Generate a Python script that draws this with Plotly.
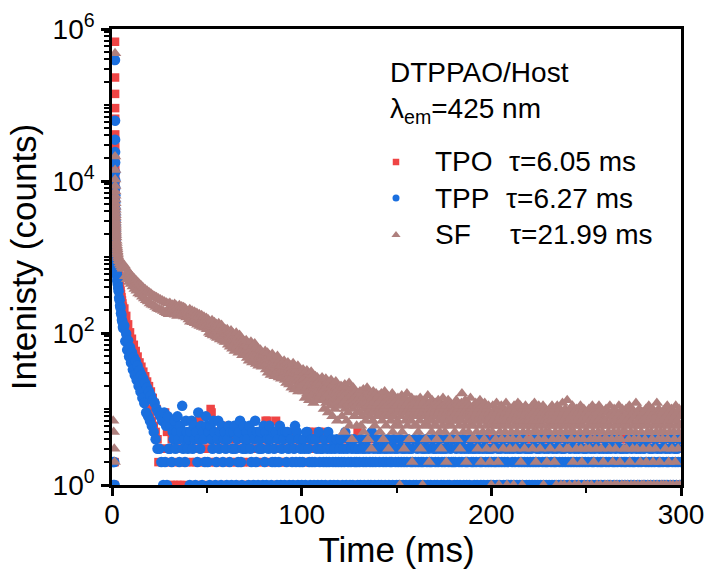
import plotly.graph_objects as go

# ---------------- data ----------------
# shared early time channels (ms)
time_early_ms = [
    0.6, 0.9, 1.2, 1.4,
    1.6, 1.62, 1.64, 1.66, 1.68, 1.7, 1.72, 1.74, 1.76, 1.78, 1.8, 1.82, 1.84, 1.86, 1.88, 1.9, 1.92, 1.94, 1.96, 1.98, 2.0,
    2.1, 2.2, 2.3, 2.4, 2.5, 2.6, 2.7, 2.8, 2.9, 3.0,
    3.25, 3.5, 3.75, 4.0, 4.25, 4.5, 4.75, 5.0, 5.25, 5.5, 5.75, 6.0,
    6.5, 7, 7.5, 8, 8.5, 9, 9.5, 10, 10.5, 11, 11.5, 12, 12.5, 13, 13.5, 14, 14.5, 15, 15.5, 16,
    16.5, 17, 17.5, 18, 18.5, 19, 19.5, 20, 20.5, 21, 21.5, 22, 22.5, 23, 23.5, 24, 24.5, 25, 25.5, 26,
    26.5, 27, 27.5, 28, 28.5, 29, 29.5, 30,
]

# TPO / TPP tail channels (ms)
time_tail_ms = [
    30.5, 31, 31.5, 32, 32.5, 33, 33.5, 34, 34.5, 35, 35.5, 36, 36.5, 37, 37.5, 38, 38.5, 39, 39.5, 40,
    40.5, 41, 41.5, 42, 42.5, 43, 43.5, 44, 44.5, 45, 45.5, 46, 46.5, 47, 47.5, 48, 48.5, 49, 49.5, 50,
    50.5, 51, 51.5, 52, 52.5, 53, 53.5, 54, 54.5, 55, 55.5, 56, 56.5, 57, 57.5, 58, 58.5, 59, 59.5, 60,
    60.5, 61, 61.5, 62, 62.5, 63, 63.5, 64, 64.5, 65, 65.5, 66, 66.5, 67, 67.5, 68, 68.5, 69, 69.5, 70,
    70.5, 71, 71.5, 72, 72.5, 73, 73.5, 74, 74.5, 75, 75.5, 76, 76.5, 77, 77.5, 78, 78.5, 79, 79.5, 80,
    80.5, 81, 81.5, 82, 82.5, 83, 83.5, 84, 84.5, 85, 85.5, 86, 86.5, 87, 87.5, 88, 88.5, 89, 89.5, 90,
    90.5, 91, 91.5, 92, 92.5, 93, 93.5, 94, 94.5, 95, 95.5, 96, 96.5, 97, 97.5, 98, 98.5, 99, 99.5, 100,
    100.5, 101, 101.5, 102, 102.5, 103, 103.5, 104, 104.5, 105, 105.5, 106, 106.5, 107, 107.5, 108, 108.5, 109, 109.5, 110,
    110.5, 111, 111.5, 112, 112.5, 113, 113.5, 114, 114.5, 115, 115.5, 116, 116.5, 117, 117.5, 118, 118.5, 119, 119.5, 120,
    120.5, 121, 121.5, 122, 122.5, 123, 123.5, 124, 124.5, 125, 125.5, 126, 126.5, 127, 127.5, 128, 128.5, 129, 129.5, 130,
    130.5, 131, 131.5, 132, 132.5, 133, 133.5, 134, 134.5, 135, 135.5, 136, 136.5, 137, 137.5, 138, 138.5, 139, 139.5, 140,
    140.5, 141, 141.5, 142, 142.5, 143, 143.5, 144, 144.5, 145, 145.5, 146, 146.5, 147, 147.5, 148, 148.5, 149, 149.5, 150,
    150.5, 151, 151.5, 152, 152.5, 153, 153.5, 154, 154.5, 155, 155.5, 156, 156.5, 157, 157.5, 158, 158.5, 159, 159.5, 160,
    160.5, 161, 161.5, 162, 162.5, 163, 163.5, 164, 164.5, 165, 165.5, 166, 166.5, 167, 167.5, 168, 168.5, 169, 169.5, 170,
    170.5, 171, 171.5, 172, 172.5, 173, 173.5, 174, 174.5, 175, 175.5, 176, 176.5, 177, 177.5, 178, 178.5, 179, 179.5, 180,
    180.5, 181, 181.5, 182, 182.5, 183, 183.5, 184, 184.5, 185, 185.5, 186, 186.5, 187, 187.5, 188, 188.5, 189, 189.5, 190,
    190.5, 191, 191.5, 192, 192.5, 193, 193.5, 194, 194.5, 195, 195.5, 196, 196.5, 197, 197.5, 198, 198.5, 199, 199.5, 200,
    200.5, 201, 201.5, 202, 202.5, 203, 203.5, 204, 204.5, 205, 205.5, 206, 206.5, 207, 207.5, 208, 208.5, 209, 209.5, 210,
    210.5, 211, 211.5, 212, 212.5, 213, 213.5, 214, 214.5, 215, 215.5, 216, 216.5, 217, 217.5, 218, 218.5, 219, 219.5, 220,
    220.5, 221, 221.5, 222, 222.5, 223, 223.5, 224, 224.5, 225, 225.5, 226, 226.5, 227, 227.5, 228, 228.5, 229, 229.5, 230,
    230.5, 231, 231.5, 232, 232.5, 233, 233.5, 234, 234.5, 235, 235.5, 236, 236.5, 237, 237.5, 238, 238.5, 239, 239.5, 240,
    240.5, 241, 241.5, 242, 242.5, 243, 243.5, 244, 244.5, 245, 245.5, 246, 246.5, 247, 247.5, 248, 248.5, 249, 249.5, 250,
    250.5, 251, 251.5, 252, 252.5, 253, 253.5, 254, 254.5, 255, 255.5, 256, 256.5, 257, 257.5, 258, 258.5, 259, 259.5, 260,
    260.5, 261, 261.5, 262, 262.5, 263, 263.5, 264, 264.5, 265, 265.5, 266, 266.5, 267, 267.5, 268, 268.5, 269, 269.5, 270,
    270.5, 271, 271.5, 272, 272.5, 273, 273.5, 274, 274.5, 275, 275.5, 276, 276.5, 277, 277.5, 278, 278.5, 279, 279.5, 280,
    280.5, 281, 281.5, 282, 282.5, 283, 283.5, 284, 284.5, 285, 285.5, 286, 286.5, 287, 287.5, 288, 288.5, 289, 289.5, 290,
    290.5, 291, 291.5, 292, 292.5, 293, 293.5, 294, 294.5, 295, 295.5, 296, 296.5, 297, 297.5, 298, 298.5, 299, 299.5, 300,
]

# SF tail channels (ms) - finer binning
sf_time_tail_ms = [
    30.25, 30.5, 30.75, 31, 31.25, 31.5, 31.75, 32, 32.25, 32.5, 32.75, 33, 33.25, 33.5, 33.75, 34, 34.25, 34.5, 34.75, 35,
    35.25, 35.5, 35.75, 36, 36.25, 36.5, 36.75, 37, 37.25, 37.5, 37.75, 38, 38.25, 38.5, 38.75, 39, 39.25, 39.5, 39.75, 40,
    40.25, 40.5, 40.75, 41, 41.25, 41.5, 41.75, 42, 42.25, 42.5, 42.75, 43, 43.25, 43.5, 43.75, 44, 44.25, 44.5, 44.75, 45,
    45.25, 45.5, 45.75, 46, 46.25, 46.5, 46.75, 47, 47.25, 47.5, 47.75, 48, 48.25, 48.5, 48.75, 49, 49.25, 49.5, 49.75, 50,
    50.25, 50.5, 50.75, 51, 51.25, 51.5, 51.75, 52, 52.25, 52.5, 52.75, 53, 53.25, 53.5, 53.75, 54, 54.25, 54.5, 54.75, 55,
    55.25, 55.5, 55.75, 56, 56.25, 56.5, 56.75, 57, 57.25, 57.5, 57.75, 58, 58.25, 58.5, 58.75, 59, 59.25, 59.5, 59.75, 60,
    60.25, 60.5, 60.75, 61, 61.25, 61.5, 61.75, 62, 62.25, 62.5, 62.75, 63, 63.25, 63.5, 63.75, 64, 64.25, 64.5, 64.75, 65,
    65.25, 65.5, 65.75, 66, 66.25, 66.5, 66.75, 67, 67.25, 67.5, 67.75, 68, 68.25, 68.5, 68.75, 69, 69.25, 69.5, 69.75, 70,
    70.25, 70.5, 70.75, 71, 71.25, 71.5, 71.75, 72, 72.25, 72.5, 72.75, 73, 73.25, 73.5, 73.75, 74, 74.25, 74.5, 74.75, 75,
    75.25, 75.5, 75.75, 76, 76.25, 76.5, 76.75, 77, 77.25, 77.5, 77.75, 78, 78.25, 78.5, 78.75, 79, 79.25, 79.5, 79.75, 80,
    80.25, 80.5, 80.75, 81, 81.25, 81.5, 81.75, 82, 82.25, 82.5, 82.75, 83, 83.25, 83.5, 83.75, 84, 84.25, 84.5, 84.75, 85,
    85.25, 85.5, 85.75, 86, 86.25, 86.5, 86.75, 87, 87.25, 87.5, 87.75, 88, 88.25, 88.5, 88.75, 89, 89.25, 89.5, 89.75, 90,
    90.25, 90.5, 90.75, 91, 91.25, 91.5, 91.75, 92, 92.25, 92.5, 92.75, 93, 93.25, 93.5, 93.75, 94, 94.25, 94.5, 94.75, 95,
    95.25, 95.5, 95.75, 96, 96.25, 96.5, 96.75, 97, 97.25, 97.5, 97.75, 98, 98.25, 98.5, 98.75, 99, 99.25, 99.5, 99.75, 100,
    100.25, 100.5, 100.75, 101, 101.25, 101.5, 101.75, 102, 102.25, 102.5, 102.75, 103, 103.25, 103.5, 103.75, 104, 104.25, 104.5, 104.75, 105,
    105.25, 105.5, 105.75, 106, 106.25, 106.5, 106.75, 107, 107.25, 107.5, 107.75, 108, 108.25, 108.5, 108.75, 109, 109.25, 109.5, 109.75, 110,
    110.25, 110.5, 110.75, 111, 111.25, 111.5, 111.75, 112, 112.25, 112.5, 112.75, 113, 113.25, 113.5, 113.75, 114, 114.25, 114.5, 114.75, 115,
    115.25, 115.5, 115.75, 116, 116.25, 116.5, 116.75, 117, 117.25, 117.5, 117.75, 118, 118.25, 118.5, 118.75, 119, 119.25, 119.5, 119.75, 120,
    120.25, 120.5, 120.75, 121, 121.25, 121.5, 121.75, 122, 122.25, 122.5, 122.75, 123, 123.25, 123.5, 123.75, 124, 124.25, 124.5, 124.75, 125,
    125.25, 125.5, 125.75, 126, 126.25, 126.5, 126.75, 127, 127.25, 127.5, 127.75, 128, 128.25, 128.5, 128.75, 129, 129.25, 129.5, 129.75, 130,
    130.25, 130.5, 130.75, 131, 131.25, 131.5, 131.75, 132, 132.25, 132.5, 132.75, 133, 133.25, 133.5, 133.75, 134, 134.25, 134.5, 134.75, 135,
    135.25, 135.5, 135.75, 136, 136.25, 136.5, 136.75, 137, 137.25, 137.5, 137.75, 138, 138.25, 138.5, 138.75, 139, 139.25, 139.5, 139.75, 140,
    140.25, 140.5, 140.75, 141, 141.25, 141.5, 141.75, 142, 142.25, 142.5, 142.75, 143, 143.25, 143.5, 143.75, 144, 144.25, 144.5, 144.75, 145,
    145.25, 145.5, 145.75, 146, 146.25, 146.5, 146.75, 147, 147.25, 147.5, 147.75, 148, 148.25, 148.5, 148.75, 149, 149.25, 149.5, 149.75, 150,
    150.25, 150.5, 150.75, 151, 151.25, 151.5, 151.75, 152, 152.25, 152.5, 152.75, 153, 153.25, 153.5, 153.75, 154, 154.25, 154.5, 154.75, 155,
    155.25, 155.5, 155.75, 156, 156.25, 156.5, 156.75, 157, 157.25, 157.5, 157.75, 158, 158.25, 158.5, 158.75, 159, 159.25, 159.5, 159.75, 160,
    160.25, 160.5, 160.75, 161, 161.25, 161.5, 161.75, 162, 162.25, 162.5, 162.75, 163, 163.25, 163.5, 163.75, 164, 164.25, 164.5, 164.75, 165,
    165.25, 165.5, 165.75, 166, 166.25, 166.5, 166.75, 167, 167.25, 167.5, 167.75, 168, 168.25, 168.5, 168.75, 169, 169.25, 169.5, 169.75, 170,
    170.25, 170.5, 170.75, 171, 171.25, 171.5, 171.75, 172, 172.25, 172.5, 172.75, 173, 173.25, 173.5, 173.75, 174, 174.25, 174.5, 174.75, 175,
    175.25, 175.5, 175.75, 176, 176.25, 176.5, 176.75, 177, 177.25, 177.5, 177.75, 178, 178.25, 178.5, 178.75, 179, 179.25, 179.5, 179.75, 180,
    180.25, 180.5, 180.75, 181, 181.25, 181.5, 181.75, 182, 182.25, 182.5, 182.75, 183, 183.25, 183.5, 183.75, 184, 184.25, 184.5, 184.75, 185,
    185.25, 185.5, 185.75, 186, 186.25, 186.5, 186.75, 187, 187.25, 187.5, 187.75, 188, 188.25, 188.5, 188.75, 189, 189.25, 189.5, 189.75, 190,
    190.25, 190.5, 190.75, 191, 191.25, 191.5, 191.75, 192, 192.25, 192.5, 192.75, 193, 193.25, 193.5, 193.75, 194, 194.25, 194.5, 194.75, 195,
    195.25, 195.5, 195.75, 196, 196.25, 196.5, 196.75, 197, 197.25, 197.5, 197.75, 198, 198.25, 198.5, 198.75, 199, 199.25, 199.5, 199.75, 200,
    200.25, 200.5, 200.75, 201, 201.25, 201.5, 201.75, 202, 202.25, 202.5, 202.75, 203, 203.25, 203.5, 203.75, 204, 204.25, 204.5, 204.75, 205,
    205.25, 205.5, 205.75, 206, 206.25, 206.5, 206.75, 207, 207.25, 207.5, 207.75, 208, 208.25, 208.5, 208.75, 209, 209.25, 209.5, 209.75, 210,
    210.25, 210.5, 210.75, 211, 211.25, 211.5, 211.75, 212, 212.25, 212.5, 212.75, 213, 213.25, 213.5, 213.75, 214, 214.25, 214.5, 214.75, 215,
    215.25, 215.5, 215.75, 216, 216.25, 216.5, 216.75, 217, 217.25, 217.5, 217.75, 218, 218.25, 218.5, 218.75, 219, 219.25, 219.5, 219.75, 220,
    220.25, 220.5, 220.75, 221, 221.25, 221.5, 221.75, 222, 222.25, 222.5, 222.75, 223, 223.25, 223.5, 223.75, 224, 224.25, 224.5, 224.75, 225,
    225.25, 225.5, 225.75, 226, 226.25, 226.5, 226.75, 227, 227.25, 227.5, 227.75, 228, 228.25, 228.5, 228.75, 229, 229.25, 229.5, 229.75, 230,
    230.25, 230.5, 230.75, 231, 231.25, 231.5, 231.75, 232, 232.25, 232.5, 232.75, 233, 233.25, 233.5, 233.75, 234, 234.25, 234.5, 234.75, 235,
    235.25, 235.5, 235.75, 236, 236.25, 236.5, 236.75, 237, 237.25, 237.5, 237.75, 238, 238.25, 238.5, 238.75, 239, 239.25, 239.5, 239.75, 240,
    240.25, 240.5, 240.75, 241, 241.25, 241.5, 241.75, 242, 242.25, 242.5, 242.75, 243, 243.25, 243.5, 243.75, 244, 244.25, 244.5, 244.75, 245,
    245.25, 245.5, 245.75, 246, 246.25, 246.5, 246.75, 247, 247.25, 247.5, 247.75, 248, 248.25, 248.5, 248.75, 249, 249.25, 249.5, 249.75, 250,
    250.25, 250.5, 250.75, 251, 251.25, 251.5, 251.75, 252, 252.25, 252.5, 252.75, 253, 253.25, 253.5, 253.75, 254, 254.25, 254.5, 254.75, 255,
    255.25, 255.5, 255.75, 256, 256.25, 256.5, 256.75, 257, 257.25, 257.5, 257.75, 258, 258.25, 258.5, 258.75, 259, 259.25, 259.5, 259.75, 260,
    260.25, 260.5, 260.75, 261, 261.25, 261.5, 261.75, 262, 262.25, 262.5, 262.75, 263, 263.25, 263.5, 263.75, 264, 264.25, 264.5, 264.75, 265,
    265.25, 265.5, 265.75, 266, 266.25, 266.5, 266.75, 267, 267.25, 267.5, 267.75, 268, 268.25, 268.5, 268.75, 269, 269.25, 269.5, 269.75, 270,
    270.25, 270.5, 270.75, 271, 271.25, 271.5, 271.75, 272, 272.25, 272.5, 272.75, 273, 273.25, 273.5, 273.75, 274, 274.25, 274.5, 274.75, 275,
    275.25, 275.5, 275.75, 276, 276.25, 276.5, 276.75, 277, 277.25, 277.5, 277.75, 278, 278.25, 278.5, 278.75, 279, 279.25, 279.5, 279.75, 280,
    280.25, 280.5, 280.75, 281, 281.25, 281.5, 281.75, 282, 282.25, 282.5, 282.75, 283, 283.25, 283.5, 283.75, 284, 284.25, 284.5, 284.75, 285,
    285.25, 285.5, 285.75, 286, 286.25, 286.5, 286.75, 287, 287.25, 287.5, 287.75, 288, 288.25, 288.5, 288.75, 289, 289.25, 289.5, 289.75, 290,
    290.25, 290.5, 290.75, 291, 291.25, 291.5, 291.75, 292, 292.25, 292.5, 292.75, 293, 293.25, 293.5, 293.75, 294, 294.25, 294.5, 294.75, 295,
    295.25, 295.5, 295.75, 296, 296.25, 296.5, 296.75, 297, 297.25, 297.5, 297.75, 298, 298.25, 298.5, 298.75, 299, 299.25, 299.5, 299.75, 300,
]

tpo_counts = [
    1, 2, 1, 2,
    680000, 230000, 140000, 91000, 66000, 41000, 28000, 19000, 14000, 10500, 8300, 6700, 5500, 4600, 3900, 3300, 2900, 2550, 2250, 2000, 1800,
    1650, 1480, 1330, 1210, 1100, 1010, 930, 860, 800, 740,
    640, 570, 500, 450, 400, 360, 325, 295, 268, 245, 222, 205,
    210, 145, 168, 110, 130, 84, 102, 66, 84, 53, 70, 43, 58, 35, 49, 28, 41, 23, 36, 19,
    31, 16, 27, 13, 23, 10, 20, 8, 17, 7, 14, 6, 12, 5, 10, 4, 2, 9, 3, 8,
    2, 7, 3, 9, 2, 5, 7, 3,
    # tail (time_tail_ms)
    2, 1, 4, 3, 1, 5, 2, 3, 1, 6, 2, 1, 4, 3, 2, 1, 5, 2, 3, 4,
    3, 2, 5, 1, 4, 2, 6, 3, 2, 1, 4, 7, 2, 3, 5, 1, 2, 4, 3, 2,
    4, 2, 3, 10, 9, 2, 5, 1, 3, 2, 5, 4, 3, 5, 2, 1, 4, 3, 2, 6,
    2, 3, 1, 4, 2, 5, 3, 2, 1, 4, 3, 2, 6, 1, 3, 2, 4, 2, 3, 1,
    3, 2, 4, 1, 5, 2, 3, 1, 2, 4, 3, 2, 5, 1, 3, 2, 4, 3, 1, 2,
    3, 7, 4, 7, 2, 3, 6, 2, 1, 3, 4, 2, 7, 3, 1, 2, 4, 3, 2, 5,
    2, 1, 3, 4, 2, 3, 1, 5, 2, 3, 4, 1, 2, 3, 2, 4, 1, 3, 2, 3,
    1, 2, 4, 3, 2, 1, 3, 5, 2, 4, 5, 3, 1, 2, 4, 2, 3, 5, 1, 2,
    3, 4, 2, 1, 5, 3, 2, 4, 1, 3, 2, 4, 3, 1, 2, 3, 4, 2, 1, 3,
    2, 3, 1, 4, 2, 3, 1, 2, 4, 3, 2, 1, 3, 4, 2, 1, 3, 2, 5, 1,
    3, 2, 4, 1, 2, 3, 1, 4, 2, 3, 1, 2, 3, 4, 1, 2, 3, 1, 2, 4,
    2, 1, 3, 2, 4, 1, 3, 2, 1, 4, 2, 3, 1, 2, 3, 4, 2, 1, 3, 2,
    1, 3, 2, 4, 1, 2, 3, 1, 2, 4, 3, 1, 2, 3, 1, 4, 2, 3, 2, 1,
    3, 2, 1, 2, 4, 3, 1, 2, 3, 1, 4, 2, 1, 3, 2, 4, 1, 2, 3, 2,
    1, 4, 2, 3, 1, 2, 3, 4, 1, 2, 3, 1, 2, 4, 3, 1, 2, 3, 1, 2,
    4, 2, 1, 3, 2, 1, 4, 3, 2, 1, 2, 3, 4, 1, 2, 3, 1, 2, 4, 3,
    2, 3, 1, 2, 4, 1, 3, 2, 1, 3, 2, 4, 1, 2, 3, 1, 4, 2, 1, 3,
    1, 2, 3, 4, 1, 2, 3, 1, 2, 4, 3, 2, 1, 3, 2, 1, 4, 3, 2, 1,
    3, 1, 2, 4, 3, 1, 2, 3, 1, 2, 4, 1, 3, 2, 1, 3, 2, 4, 1, 2,
    2, 4, 1, 3, 2, 1, 3, 2, 4, 1, 2, 3, 1, 2, 4, 3, 1, 2, 3, 1,
    4, 1, 2, 3, 1, 2, 4, 3, 1, 2, 3, 1, 2, 4, 2, 3, 1, 2, 1, 3,
    1, 3, 2, 1, 4, 2, 3, 1, 2, 3, 4, 1, 2, 1, 3, 2, 4, 1, 3, 2,
    3, 2, 1, 4, 2, 1, 3, 2, 4, 1, 2, 3, 1, 2, 3, 4, 1, 2, 3, 1,
    2, 1, 4, 3, 1, 2, 3, 1, 2, 4, 1, 3, 2, 1, 3, 2, 1, 4, 2, 3,
    1, 2, 3, 1, 4, 2, 1, 3, 2, 1, 4, 2, 3, 1, 2, 3, 1, 2, 4, 1,
    3, 1, 2, 4, 1, 3, 2, 1, 2, 3, 4, 1, 2, 3, 1, 2, 4, 3, 1, 2,
    2, 3, 1, 2, 4, 1, 3, 2, 1, 3, 2, 4, 1, 2, 3, 1, 2, 3, 4, 1,
]

tpp_counts = [
    2, 1, 2, 1,
    390000, 62000, 35000, 24000, 17500, 13000, 10200, 8100, 6500, 5300, 4300, 3600, 3000, 2600, 2200, 1900, 1700, 1500, 1350, 1200, 1080,
    960, 850, 790, 700, 650, 590, 560, 500, 480, 440,
    390, 355, 290, 270, 228, 215, 182, 172, 148, 140, 120, 115,
    125, 78, 98, 60, 80, 49, 65, 41, 56, 33, 48, 28, 43, 24, 37, 20, 32, 17, 28, 14,
    25, 12, 22, 9, 19, 8, 17, 7, 15, 6, 13, 5, 12, 4, 10, 3, 9, 3, 8, 2,
    7, 1, 9, 2, 6, 1, 8, 3,
    # tail (time_tail_ms)
    3, 6, 2, 5, 4, 7, 3, 5, 8, 4, 2, 6, 5, 11, 3, 4, 2, 7, 5, 3,
    4, 1, 5, 7, 3, 6, 4, 1, 5, 2, 9, 4, 3, 6, 1, 5, 4, 2, 8, 6,
    2, 5, 1, 6, 4, 3, 7, 5, 1, 2, 4, 7, 3, 5, 1, 6, 2, 4, 5, 3,
    1, 4, 6, 2, 5, 1, 3, 5, 6, 3, 1, 4, 2, 5, 7, 2, 1, 3, 6, 4,
    3, 5, 4, 1, 6, 3, 2, 5, 1, 4, 7, 2, 5, 1, 3, 4, 5, 3, 1, 6,
    2, 5, 1, 4, 3, 6, 4, 1, 2, 5, 3, 2, 5, 1, 4, 2, 6, 1, 3, 5,
    4, 1, 5, 2, 5, 3, 1, 4, 4, 2, 1, 3, 6, 2, 5, 1, 4, 2, 3, 1,
    2, 4, 3, 1, 5, 5, 3, 2, 1, 4, 2, 4, 1, 2, 4, 3, 1, 5, 2, 3,
    1, 3, 2, 4, 1, 2, 3, 5, 2, 1, 3, 4, 2, 1, 3, 2, 4, 1, 2, 3,
    4, 2, 1, 3, 2, 5, 1, 3, 2, 4, 1, 2, 3, 1, 4, 2, 3, 2, 1, 3,
    2, 1, 4, 3, 2, 1, 3, 2, 4, 1, 3, 2, 1, 5, 2, 3, 1, 2, 4, 3,
    1, 2, 3, 1, 4, 2, 3, 1, 2, 3, 4, 1, 2, 3, 2, 1, 4, 3, 2, 1,
    3, 2, 1, 4, 2, 3, 1, 2, 3, 1, 2, 4, 3, 1, 2, 3, 2, 1, 4, 2,
    1, 3, 2, 4, 1, 2, 3, 2, 1, 3, 4, 2, 1, 3, 2, 1, 2, 4, 3, 1,
    2, 3, 1, 2, 4, 3, 1, 2, 3, 1, 2, 3, 4, 1, 2, 1, 3, 2, 4, 2,
    1, 2, 3, 1, 4, 2, 1, 3, 2, 4, 1, 3, 2, 1, 2, 3, 1, 4, 2, 3,
    2, 1, 3, 2, 1, 4, 3, 2, 1, 2, 3, 1, 4, 2, 3, 1, 2, 3, 1, 2,
    3, 1, 2, 4, 2, 1, 3, 2, 1, 3, 2, 4, 1, 2, 3, 1, 2, 1, 3, 4,
    1, 2, 3, 1, 2, 4, 1, 3, 2, 1, 3, 2, 1, 4, 2, 3, 1, 2, 3, 1,
    2, 3, 1, 2, 4, 1, 2, 3, 1, 2, 3, 1, 4, 2, 1, 3, 2, 1, 2, 3,
    1, 4, 2, 1, 3, 2, 1, 2, 3, 4, 1, 2, 1, 3, 2, 1, 3, 2, 4, 1,
    2, 1, 3, 2, 1, 4, 2, 3, 1, 2, 1, 3, 2, 4, 1, 2, 3, 1, 2, 3,
    1, 2, 4, 1, 3, 2, 1, 2, 3, 1, 4, 2, 1, 3, 2, 1, 2, 3, 1, 4,
    2, 3, 1, 2, 1, 3, 4, 2, 1, 2, 3, 1, 2, 4, 1, 3, 2, 1, 3, 2,
    1, 2, 3, 1, 4, 2, 1, 3, 2, 1, 2, 4, 3, 1, 2, 1, 3, 2, 4, 1,
    3, 1, 2, 4, 1, 2, 3, 1, 2, 3, 1, 2, 4, 1, 3, 2, 1, 2, 3, 1,
    2, 4, 1, 3, 2, 1, 2, 3, 1, 4, 2, 1, 3, 2, 1, 3, 2, 4, 1, 2,
]

sf_counts = [
    7, 5, 3, 2,
    480000, 21000, 14000, 10500, 8600, 7300, 6400, 5700, 5100, 4600, 4200, 3850, 3550, 3300, 3050, 2850, 2650, 2500, 2350, 2200, 2080,
    1950, 1800, 1640, 1530, 1420, 1330, 1260, 1190, 1140, 1080,
    1010, 960, 905, 880, 830, 815, 780, 775, 740, 735, 705, 700,
    780, 560, 700, 510, 650, 470, 600, 440, 560, 410, 530, 380, 500, 360, 470, 330, 440, 320, 420, 300,
    395, 285, 375, 270, 360, 260, 345, 245, 330, 235, 315, 230, 305, 220, 295, 210, 285, 205, 275, 200,
    268, 195, 260, 188, 252, 182, 245, 176,
    # tail (sf_time_tail_ms)
    215, 248, 190, 226, 201, 178, 236, 209, 185, 222, 196, 240, 174, 212, 188, 229, 203, 168, 219, 194,
    181, 232, 199, 171, 214, 190, 224, 176, 206, 186, 218, 165, 198, 211, 179, 204, 160, 192, 183, 170,
    188, 150, 172, 205, 141, 167, 183, 156, 196, 138, 162, 177, 148, 190, 134, 158, 171, 145, 183, 128,
    152, 166, 139, 176, 124, 149, 160, 136, 171, 120, 144, 155, 131, 163, 117, 140, 150, 126, 158, 113,
    135, 112, 150, 124, 101, 142, 118, 96, 133, 109, 147, 121, 93, 128, 105, 139, 99, 116, 89, 131,
    107, 86, 122, 100, 134, 94, 113, 82, 119, 97, 127, 88, 108, 79, 115, 92, 103, 76, 111, 85,
    98, 77, 112, 86, 70, 104, 81, 95, 66, 90, 108, 74, 84, 62, 99, 79, 71, 92, 58, 85,
    76, 101, 64, 82, 69, 88, 55, 78, 94, 62, 73, 56, 86, 67, 51, 80, 63, 72, 54, 68,
    70, 52, 80, 61, 47, 74, 57, 66, 43, 71, 58, 49, 77, 54, 63, 41, 68, 51, 59, 45,
    73, 48, 56, 39, 65, 53, 44, 62, 37, 58, 50, 42, 60, 46, 54, 36, 52, 43, 48, 40,
    52, 38, 58, 44, 33, 49, 41, 55, 30, 46, 39, 51, 35, 43, 28, 48, 37, 53, 31, 42,
    36, 47, 27, 40, 34, 45, 29, 38, 50, 32, 41, 26, 37, 44, 30, 35, 25, 39, 33, 28,
    37, 28, 43, 31, 24, 39, 34, 22, 36, 29, 41, 26, 33, 21, 38, 30, 25, 35, 19, 32,
    27, 40, 23, 30, 18, 34, 26, 29, 20, 33, 24, 37, 17, 28, 22, 31, 19, 26, 23, 21,
    28, 21, 33, 17, 25, 30, 14, 23, 27, 19, 32, 16, 24, 20, 29, 13, 22, 26, 18, 31,
    15, 24, 21, 28, 12, 19, 25, 17, 27, 14, 22, 20, 26, 13, 23, 18, 16, 24, 15, 21,
    22, 16, 26, 13, 19, 24, 10, 18, 21, 14, 25, 12, 20, 17, 23, 9, 16, 22, 13, 19,
    11, 24, 15, 18, 8, 21, 14, 17, 20, 10, 16, 23, 12, 19, 7, 15, 18, 11, 14, 13,
    17, 11, 20, 14, 8, 16, 19, 12, 5, 15, 21, 10, 13, 18, 7, 14, 17, 9, 12, 22,
    6, 15, 11, 18, 13, 4, 16, 10, 19, 12, 8, 14, 17, 11, 15, 6, 13, 9, 16, 12,
    14, 9, 17, 11, 6, 13, 16, 8, 12, 18, 5, 10, 15, 12, 7, 14, 9, 19, 11, 4,
    13, 16, 8, 12, 10, 15, 3, 11, 14, 7, 17, 9, 12, 6, 13, 10, 16, 8, 11, 14,
    12, 8, 15, 10, 5, 13, 9, 16, 11, 7, 14, 4, 10, 12, 17, 8, 11, 6, 13, 9,
    15, 10, 3, 12, 8, 14, 11, 7, 13, 9, 16, 5, 10, 12, 8, 14, 6, 11, 9, 13,
    11, 7, 14, 9, 12, 6, 1, 10, 13, 8, 15, 5, 11, 9, 12, 3, 10, 14, 7, 11,
    9, 16, 6, 12, 8, 10, 4, 13, 9, 11, 7, 14, 2, 10, 12, 8, 11, 6, 13, 9,
    10, 6, 13, 8, 11, 5, 9, 12, 7, 14, 3, 10, 8, 11, 1, 9, 12, 6, 10, 8,
    13, 4, 11, 7, 9, 15, 6, 10, 2, 12, 8, 9, 11, 5, 13, 7, 10, 8, 12, 6,
    9, 12, 6, 10, 4, 11, 8, 13, 7, 9, 5, 12, 10, 3, 8, 11, 6, 14, 9, 7,
    10, 5, 12, 8, 2, 11, 9, 6, 13, 7, 10, 4, 9, 12, 8, 6, 11, 9, 7, 10,
    8, 11, 5, 10, 7, 13, 9, 4, 12, 8, 10, 6, 11, 3, 9, 7, 12, 16, 8, 10,
    5, 11, 9, 6, 13, 8, 2, 10, 7, 12, 9, 5, 11, 8, 6, 14, 9, 7, 10, 4,
    9, 6, 11, 4, 10, 7, 12, 8, 5, 9, 3, 11, 7, 10, 6, 13, 8, 2, 9, 7,
    11, 5, 8, 10, 4, 12, 7, 9, 6, 3, 10, 8, 5, 11, 7, 9, 2, 8, 6, 1,
    8, 5, 11, 7, 3, 9, 6, 10, 4, 8, 12, 6, 9, 2, 7, 1, 10, 5, 8, 6,
    11, 4, 9, 7, 3, 10, 6, 8, 5, 9, 12, 7, 1, 8, 4, 10, 6, 9, 3, 7,
    9, 5, 10, 7, 4, 8, 1, 11, 6, 9, 3, 7, 10, 5, 8, 12, 6, 9, 4, 7,
    11, 2, 8, 6, 1, 9, 5, 10, 7, 3, 8, 11, 6, 9, 4, 7, 10, 5, 8, 6,
    7, 10, 4, 8, 6, 11, 3, 9, 5, 7, 12, 6, 8, 2, 10, 5, 7, 9, 4, 11,
    6, 8, 3, 10, 7, 5, 9, 6, 11, 1, 8, 4, 7, 10, 5, 9, 2, 8, 6, 7,
    8, 5, 10, 3, 9, 6, 7, 11, 4, 8, 6, 9, 2, 10, 5, 7, 1, 8, 11, 6,
    4, 9, 7, 3, 10, 5, 1, 8, 6, 12, 4, 7, 9, 1, 6, 10, 5, 8, 3, 13,
    6, 9, 3, 7, 1, 10, 5, 8, 4, 6, 11, 2, 7, 5, 9, 1, 6, 8, 3, 10,
    7, 4, 9, 1, 6, 8, 5, 11, 3, 7, 2, 9, 6, 4, 10, 1, 8, 5, 7, 3,
    9, 5, 1, 8, 6, 10, 3, 7, 4, 9, 1, 6, 11, 5, 8, 2, 7, 4, 10, 6,
    3, 8, 1, 9, 5, 7, 11, 4, 6, 1, 10, 3, 8, 5, 7, 2, 9, 6, 4, 1,
    7, 10, 4, 6, 1, 9, 5, 8, 3, 11, 6, 1, 7, 4, 9, 2, 8, 5, 10, 1,
    6, 3, 9, 7, 4, 1, 8, 5, 11, 6, 2, 9, 4, 7, 1, 10, 5, 8, 3, 6,
    1, 8, 5, 10, 3, 7, 1, 9, 6, 4, 11, 2, 8, 5, 1, 7, 10, 3, 6, 9,
    4, 1, 8, 5, 12, 6, 3, 7, 1, 9, 4, 10, 6, 2, 8, 5, 1, 7, 9, 3,
    6, 1, 9, 4, 7, 10, 2, 8, 5, 1, 6, 11, 3, 7, 9, 1, 5, 8, 4, 10,
    2, 6, 1, 9, 7, 3, 8, 5, 12, 1, 6, 4, 10, 7, 2, 9, 5, 1, 8, 6,
    4, 9, 1, 7, 5, 10, 3, 8, 1, 6, 11, 4, 7, 2, 9, 5, 1, 8, 6, 10,
    3, 7, 1, 9, 5, 4, 8, 2, 11, 6, 1, 7, 9, 3, 5, 10, 1, 6, 8, 4,
]

tpo_time = time_early_ms + time_tail_ms
tpp_time = time_early_ms + time_tail_ms
sf_time = time_early_ms + sf_time_tail_ms
assert len(tpo_time) == len(tpo_counts), (len(tpo_time), len(tpo_counts))
assert len(tpp_time) == len(tpp_counts), (len(tpp_time), len(tpp_counts))
assert len(sf_time) == len(sf_counts), (len(sf_time), len(sf_counts))

series_names = ["TPO", "TPP", "SF"]
lifetime_labels = ["τ=6.05 ms", "τ=6.27 ms", "τ=21.99 ms"]
x_tick_vals = [0, 100, 200, 300]
x_minor_vals = [50, 150, 250]
y_tick_vals = [1, 100, 10000, 1000000]
y_tick_text = ["10<sup>0</sup>", "10<sup>2</sup>", "10<sup>4</sup>", "10<sup>6</sup>"]
y_minor_vals = [m * 10 ** k for k in range(6) for m in range(2, 11) if m * 10 ** k not in y_tick_vals]

# ---------------- styling ----------------
colors = ["#EF4444", "#1A6FDF", "#AE7F7D"]
symbols = ["square", "circle", "triangle-up"]
sizes = [8.5, 10.5, 11]
legend_sizes = [6.5, 7, 8]
FONT = "Liberation Sans, Arial, Helvetica, sans-serif"

L, R, T, B = 112, 23, 29, 84
W, H = 704, 569
pw, ph = W - L - R, H - T - B


def px_x(x):
    return (x - L) / pw


def px_y(y):
    return (H - B - y) / ph


fig = go.Figure()
for name, xs, ys, sym, sz, col in zip(series_names, [tpo_time, tpp_time, sf_time],
                                      [tpo_counts, tpp_counts, sf_counts], symbols, sizes, colors):
    fig.add_trace(go.Scatter(
        x=xs, y=ys, mode="markers", name=name, showlegend=False,
        marker=dict(symbol=sym, size=sz, color=col, line=dict(width=0)),
        hoverinfo="skip",
    ))

# legend keys (drawn on an invisible overlay axis in plot-fraction units)
legend_rows_px = [162, 198, 235]
for sym, sz, col, ry in zip(symbols, legend_sizes, colors, legend_rows_px):
    fig.add_trace(go.Scatter(
        x=[px_x(396)], y=[px_y(ry)], xaxis="x2", yaxis="y2", mode="markers",
        marker=dict(symbol=sym, size=sz, color=col, line=dict(width=0)),
        showlegend=False, hoverinfo="skip",
    ))

annotations = [
    dict(text="DTPPAO/Host", x=px_x(388), y=px_y(72)),
    dict(text="λ<sub>em</sub>=425 nm", x=px_x(388), y=px_y(110)),
]
name_x = [433, 433, 433]
tau_x = [507, 504, 508]
for nm, tl, ry, nx, tx in zip(series_names, lifetime_labels, legend_rows_px, name_x, tau_x):
    annotations.append(dict(text=nm, x=px_x(nx), y=px_y(ry)))
    annotations.append(dict(text=tl, x=px_x(tx), y=px_y(ry)))
for a in annotations:
    a.update(xref="paper", yref="paper", xanchor="left", yanchor="middle",
             showarrow=False, font=dict(family=FONT, size=28, color="black"))

axis_common = dict(
    showline=True, linewidth=2.5, linecolor="black", mirror=True,
    ticks="outside", ticklen=8, tickwidth=2.5, tickcolor="black",
    showgrid=False, zeroline=False, ticklabeloverflow="allow",
    tickfont=dict(family=FONT, size=28, color="black"),
)

fig.update_layout(
    width=W, height=H,
    margin=dict(l=L, r=R, t=T, b=B, autoexpand=False),
    paper_bgcolor="white", plot_bgcolor="white",
    font=dict(family=FONT, size=28, color="black"),
    showlegend=False,
    xaxis=dict(
        range=[0, 300], tickvals=x_tick_vals,
        minor=dict(tickvals=x_minor_vals, ticks="outside", ticklen=5, tickwidth=2, tickcolor="black", showgrid=False),
        title=dict(text="Time (ms)", font=dict(family=FONT, size=35, color="black"), standoff=2),
        ticklabelstandoff=-5,
        **axis_common,
    ),
    yaxis=dict(
        type="log", range=[0, 6], tickvals=y_tick_vals, ticktext=y_tick_text,
        minor=dict(tickvals=y_minor_vals, ticks="outside", ticklen=5, tickwidth=2, tickcolor="black", showgrid=False),
        title=dict(text="Intenisty (counts)", font=dict(family=FONT, size=35, color="black"), standoff=6),
        ticklabelstandoff=1,
        **axis_common,
    ),
    xaxis2=dict(overlaying="x", range=[0, 1], visible=False, fixedrange=True),
    yaxis2=dict(overlaying="y", range=[0, 1], visible=False, fixedrange=True),
    annotations=annotations,
)

fig.write_html("out.html")
